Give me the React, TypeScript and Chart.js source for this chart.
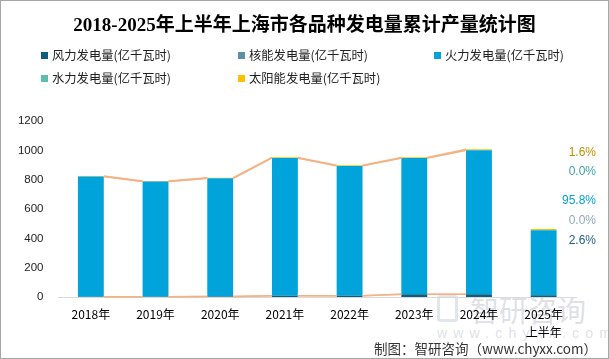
import React, { useEffect, useRef } from "react";
import { Chart, registerables } from "chart.js";

Chart.register(...registerables);

const categories: (string | string[])[] = ["2018年", "2019年", "2020年", "2021年", "2022年", "2023年", "2024年", ["2025年", "上半年"]];
const windValues = [1, 2, 3, 9, 8, 18, 19, 12];
const nuclearValues = [0, 0, 0, 0, 0, 0, 0, 0];
const thermalValues = [820, 785, 806, 939, 886, 929, 982, 443.6];
const hydroValues = [0, 0, 0, 0, 0, 0, 0, 0];
const solarValues = [4, 4, 4, 4, 4, 5, 6, 7.4];
const yTicks = [0, 200, 400, 600, 800, 1000, 1200];
const seriesNames = ["风力发电量(亿千瓦时)", "核能发电量(亿千瓦时)", "火力发电量(亿千瓦时)", "水力发电量(亿千瓦时)", "太阳能发电量(亿千瓦时)"];
const shareLabels = ["1.6%", "0.0%", "95.8%", "0.0%", "2.6%"];

const colors = ["#0B5E7F", "#5F8FA7", "#00A3DA", "#5BBDB2", "#FFC000"];
const shareColors = ["#BF9000", "#3F9FA8", "#00A3DA", "#8FA9B8", "#1E5F80"];
const shareTops = [144, 163, 192, 212, 232];
const LINKED_PAIRS = 6;

const CJK = '"Noto Sans CJK SC", "Liberation Sans", sans-serif';

const seriesLines = {
  id: "seriesLines",
  afterDatasetsDraw(chart: any) {
    const ctx = chart.ctx;
    ctx.save();
    ctx.strokeStyle = "rgba(244,177,131,0.9)";
    ctx.lineWidth = 1.5;
    chart.data.datasets.forEach((_ds: any, di: number) => {
      const meta = chart.getDatasetMeta(di);
      for (let i = 0; i < LINKED_PAIRS; i++) {
        const a = meta.data[i];
        const b = meta.data[i + 1];
        if (!a || !b) continue;
        ctx.beginPath();
        ctx.moveTo(a.x + a.width / 2, a.y);
        ctx.lineTo(b.x - b.width / 2, b.y);
        ctx.stroke();
      }
    });
    ctx.restore();
  },
};

export default function App() {
  const ref = useRef<HTMLCanvasElement>(null);

  useEffect(() => {
    document.body.style.margin = "0";
    const values = [windValues, nuclearValues, thermalValues, hydroValues, solarValues];
    const chart = new Chart(ref.current!, {
      type: "bar",
      data: {
        labels: categories,
        datasets: values.map((v, i) => ({
          label: seriesNames[i],
          data: v,
          backgroundColor: colors[i],
          borderWidth: 0,
          barPercentage: 0.4,
          categoryPercentage: 1,
        })),
      },
      options: {
        responsive: false,
        animation: false,
        layout: { padding: { top: 121, right: 33, bottom: 0, left: 0 } },
        plugins: { legend: { display: false }, tooltip: { enabled: false } },
        scales: {
          x: {
            stacked: true,
            grid: { display: false, drawTicks: false },
            border: { display: true, color: "#D9D9D9", width: 1 },
            ticks: {
              padding: 8,
              color: "#000",
              font: { family: CJK, size: 12, lineHeight: 1.5 },
              maxRotation: 0,
              autoSkip: false,
            },
            afterFit: (s: any) => {
              s.height = 62;
            },
          },
          y: {
            stacked: true,
            min: 0,
            max: 1200,
            grid: { display: false, drawTicks: false },
            border: { display: false },
            afterBuildTicks: (s: any) => {
              s.ticks = yTicks.map((v) => ({ value: v }));
            },
            ticks: {
              padding: 15,
              color: "#222",
              font: { family: '"Liberation Sans", sans-serif', size: 11.5 },
              callback: (v: any) => String(v),
            },
            afterFit: (s: any) => {
              s.width = 58.5;
            },
          },
        },
      },
      plugins: [seriesLines],
    });
    return () => chart.destroy();
  }, []);

  const legendPos = [
    [41, 55], [238, 55], [434, 55],
    [41, 78], [238, 78],
  ];

  return (
    <div style={{ position: "relative", width: 609, height: 359, background: "#fff", overflow: "hidden", fontFamily: CJK }}>
      {/* watermark */}
      <div style={{ position: "absolute", left: 437, top: 295, width: 21, height: 27, border: "3px solid rgba(180,190,212,0.4)", borderRadius: 3, boxSizing: "border-box" }} />
      <div style={{ position: "absolute", left: 470, top: 292, fontSize: 29, color: "rgba(175,180,195,0.42)", fontFamily: CJK, lineHeight: "34px", whiteSpace: "nowrap" }}>智研咨询</div>
      <div style={{ position: "absolute", left: 437, top: 324, fontSize: 14, color: "rgba(175,180,195,0.42)", fontFamily: '"Liberation Sans", sans-serif', letterSpacing: 6.2, lineHeight: "18px", whiteSpace: "nowrap" }}>www.chyxx.com</div>

      <canvas ref={ref} width={609} height={359} style={{ position: "absolute", left: 0, top: 0 }} />

      <div style={{ position: "absolute", left: 0, top: 11, width: 609, textAlign: "center", fontSize: 19, fontWeight: "bold", color: "#000", fontFamily: '"Liberation Serif", "Noto Sans CJK SC", serif', lineHeight: "28px", whiteSpace: "nowrap" }}>
        2018-2025年上半年上海市各品种发电量累计产量统计图
      </div>

      {seriesNames.map((n, i) => (
        <div key={n} style={{ position: "absolute", left: legendPos[i][0], top: legendPos[i][1] - 9, display: "flex", alignItems: "center", whiteSpace: "nowrap", height: 18 }}>
          <span style={{ display: "inline-block", width: 7, height: 7, background: colors[i], marginRight: 4 }} />
          <span style={{ fontSize: 12.3, color: "#222", lineHeight: "18px" }}>{n}</span>
        </div>
      ))}

      {shareLabels.map((t, i) => (
        <div key={i} style={{ position: "absolute", right: 13, top: shareTops[i], fontSize: 12, color: shareColors[i], fontFamily: '"Liberation Sans", sans-serif', lineHeight: "16px", whiteSpace: "nowrap" }}>{t}</div>
      ))}

      <div style={{ position: "absolute", right: 12, top: 339, fontSize: 13.5, color: "#333", lineHeight: "18px", whiteSpace: "nowrap" }}>
        制图：智研咨询（www.chyxx.com）
      </div>

      <div style={{ position: "absolute", left: 0, top: 0, width: 609, height: 359, boxSizing: "border-box", border: "1px solid #A6A6A6", pointerEvents: "none" }} />
    </div>
  );
}
